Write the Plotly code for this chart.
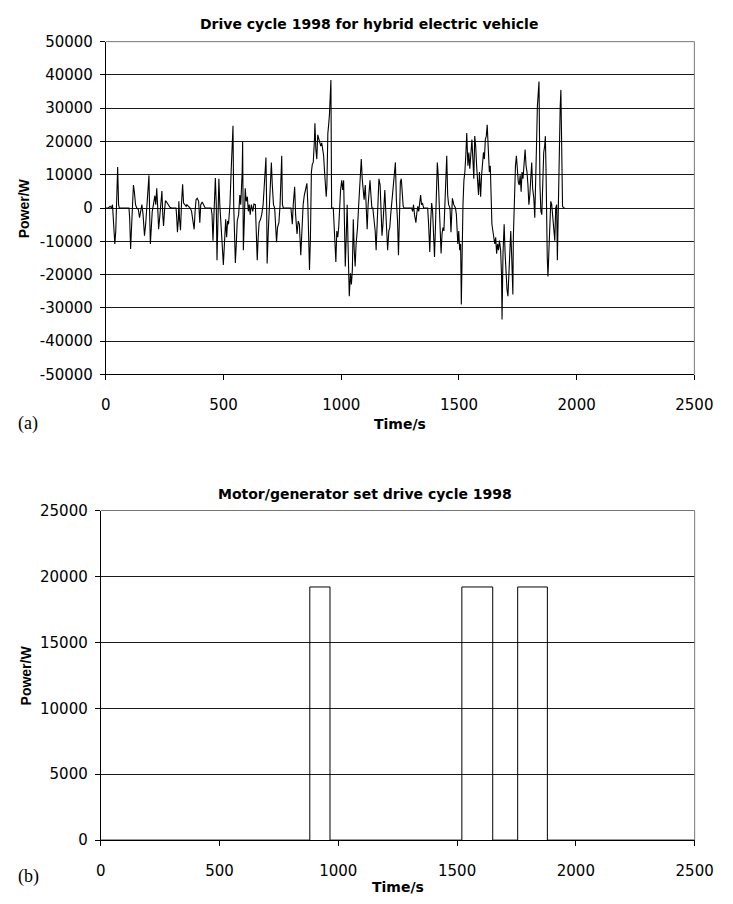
import plotly.graph_objects as go

# ---------------- data ----------------
# (a) drive cycle power demand of the hybrid electric vehicle
time_s = [
    0, 10, 18, 24, 28, 32, 38, 42, 46, 50, 54, 57, 98, 101, 105, 109, 113, 117, 121, 126,
    131, 138, 143, 149, 153, 158, 164, 169, 175, 179, 183, 186, 189, 193, 197, 202, 208, 212, 216, 220,
    224, 228, 234, 238, 242, 245, 249, 253, 258, 265, 272, 279, 298, 301, 304, 308, 310, 313, 317, 321,
    326, 330, 334, 341,
    344, 358, 364, 370, 375, 379, 383, 388, 394, 399, 403, 409, 416, 422, 447, 451, 455, 459, 465, 469,
    472, 476, 480, 484, 488, 494, 499, 505, 509, 513, 517, 521, 527, 532, 536, 540, 543, 546, 550, 554,
    558, 564, 569, 573, 579, 581, 584, 588, 592, 596, 601, 605, 609, 613, 618, 624, 629, 635, 639, 643,
    647, 651, 657, 662, 668, 672, 676, 680, 683, 685, 690, 694, 699, 703, 707, 712, 717, 721, 725, 729,
    735, 740, 744, 747, 750, 754, 786, 788, 792, 796, 802, 806, 812, 817, 822, 828, 832, 838, 843, 849,
    854, 858, 861, 865, 869, 873, 877, 881, 886, 888, 892, 896, 900, 905, 909, 913, 917, 921, 925, 929,
    933, 936, 939, 943, 947, 950, 956, 959, 966,
    969, 973, 977, 981, 985, 989, 993, 997, 1002, 1006, 1010, 1013, 1017, 1021, 1025, 1029, 1032, 1034, 1039, 1043,
    1047, 1051, 1055, 1059, 1063, 1069, 1074, 1080, 1085, 1089, 1093, 1097, 1102, 1106, 1110, 1114, 1118, 1122, 1126, 1130,
    1134, 1139, 1144, 1148, 1152, 1156, 1160, 1165, 1169, 1173, 1177, 1181, 1185, 1189, 1193, 1197, 1202, 1206, 1210, 1214,
    1218, 1222, 1226, 1230, 1234, 1239, 1243, 1247, 1251, 1255, 1259, 1263, 1267, 1299, 1303, 1307, 1311, 1317, 1321, 1325,
    1329, 1333, 1337, 1341, 1345, 1350, 1367, 1371, 1376, 1380, 1384, 1388, 1392, 1396, 1400, 1404, 1408, 1411, 1415, 1419,
    1424, 1428, 1432, 1436, 1440, 1444, 1448, 1452, 1456, 1462, 1466, 1472, 1478, 1485, 1489, 1495, 1499, 1503, 1507, 1510,
    1513, 1517, 1521, 1525, 1529, 1533,
    1538, 1542, 1546, 1551, 1555, 1559, 1563, 1567, 1571, 1575, 1579, 1583, 1587, 1592, 1596, 1600, 1604, 1608, 1612, 1616,
    1620, 1624, 1629, 1633, 1637, 1640, 1644, 1648, 1652, 1656, 1660, 1664, 1668, 1672, 1677, 1681, 1683, 1687, 1692, 1696,
    1700, 1704, 1708, 1712, 1716, 1720, 1724, 1729, 1731, 1735, 1740, 1744, 1748, 1752, 1756, 1760, 1764, 1768, 1772, 1777,
    1781, 1785, 1789, 1793, 1797, 1801, 1805, 1809, 1813, 1818, 1822, 1826, 1830, 1833, 1840, 1844, 1848, 1852, 1856, 1860,
    1864, 1867, 1870, 1872, 1875, 1878, 1882, 1886, 1890, 1894, 1899, 1903, 1907, 1911, 1915, 1918, 1921, 1924, 1927, 1930,
    1933, 1936, 1940, 1945, 1950,
]
power_w = [
    0, 0, 500, 0, 1000, -3900, -10800, -6900, 1000, 12300, 1000, 0, 0, -2900, -12300, -6900, 2000, 6900, 4900, 1000,
    0, -500, -2900, 500, 1000, -2000, -8300, -4900, 1000, 4900, 9800, -2000, -10800, -5900, -1000, 1000, 3700, 1000, 5900, 500,
    -6400, -3400, 1500, 5100, -2500, -5400, -1000, 2200, 1800, 1000, 200, 0, 0, -2900, -7300, -3400, 2000, -3400, -6700, 1000,
    7100, 1500, 1000, 500,
    1000, 0, -1000, -3900, -6400, -1000, 2500, 2900, 2000, -4400, 1000, 1800, 500, 0, 0, -2000, -9800, 1000, 9000, 1000,
    -15700, -3900, 8800, 1000, -2900, -10800, -17100, -7800, -3400, -8800, -3900, -4900, 1000, 10800, 19600, 24700, 1000, -11800, -16500, -10800,
    -3900, -2000, 3900, 1000, 10800, 19900, -12700, -3900, 5900, 2000, 3400, -1000, 1000, -2000, 1000, -1000, 1200, 1000, -10800, -15700,
    -8800, -4400, -3400, -2000, 1000, 4900, 10800, 15200, 1000, -16700, -6900, 1000, 7800, 13700, 6900, 1000, 0, -5900, -10300, -5900,
    -4400, 1000, 10300, 15700, 1000, 0, 0, -2900, -4900, 1000, 6400, -2000, -7800, -3900, -4900, -14200, -5900, 1000, 3900, 5400,
    7400, 1000, -8800, -18600, -8800, 10800, 13200, 13700, 20600, 25500, 17600, 14700, 22000, 20600, 19600, 18600, 19600, 18100, 15700, 10800,
    6400, 3400, 6900, 22500, 25500, 28400, 38500, 0, 0,
    -4900, -14200, -16200, -6900, -8800, -5900, 1000, 5400, 8300, 5400, 8300, -3900, -17600, -8800, 1000, -11800, -20600, -26500, -19600, -23000,
    -18600, -3400, -12700, -17600, -10800, -5900, 1000, 10800, 14700, 8800, 6400, 2500, 6900, -2000, -6400, 1000, 5400, 8300, 3900, 0,
    0, -3900, -6900, -12700, -5900, 1000, 8800, 6900, -1000, -8300, -4900, 1000, 5400, -1000, -8800, -12700, -6900, -5900, -2000, 1000,
    5900, 8800, 10800, 13700, 2500, -3900, -14200, -5900, 7800, 8800, 3900, 500, 0, 0, -1000, 1000, -2000, -4400, -1500, 500,
    -1000, 1500, 3900, 1000, 1500, 0, 0, -4900, -13200, -3900, 1500, -1000, -6900, -14700, -5900, 4900, 13700, 10800, 2000, -4900,
    -13700, -7800, -5900, -6900, 1000, 7800, 15700, 3900, 1000, 0, -7300, 2900, 1000, 0, -2000, -10800, -6900, -12700, -10800, -29000,
    -8800, 1000, 8300, 10800, 15700, 22500,
    12700, 16700, 11800, 18600, 20600, 14700, 8800, 21600, 18600, 12700, 5900, 3900, 10800, 3400, 9800, 12700, 16700, 14700, 20600, 21600,
    25000, 18600, 10800, 12700, 1000, -4900, -6900, -8300, -10800, -8800, -13700, -10800, -12700, -9800, -12700, -20600, -33500, -13700, -4900, -13700,
    -20600, -24500, -26500, -18600, -10800, -6900, -14700, -26000, -8800, 5900, 12700, 15700, 10800, 7800, 6900, 9800, 4900, 10800, 8800, 14700,
    17600, 12700, 10800, 6900, 1000, 3900, 10800, 13700, 5900, 2900, -2900, 5900, 20600, 30400, 38000, 6900, -1000, -2000, 10800, 16700,
    18600, 21600, 10800, -3900, -14700, -20600, -12700, -6900, 2000, 1000, -3900, -6900, -9800, 0, 1000, -15700, -1000, 1000, 12700, 30400,
    35500, 10800, 500, 0, 0,
]

# (b) motor/generator set operating periods
pulse_start_s = [880, 1520, 1755]
pulse_end_s = [965, 1650, 1880]
pulse_power_w = 19200
cycle_end_s = 2500

# axis ticks
x_ticks = [0, 500, 1000, 1500, 2000, 2500]
y_ticks_a = [50000, 40000, 30000, 20000, 10000, 0, -10000, -20000, -30000, -40000, -50000]
y_ticks_b = [0, 5000, 10000, 15000, 20000, 25000]

# ---------------- figure ----------------
W, H = 733, 904


def fx(px):
    return px / W


def fy(px):
    return 1 - px / H


# build the on/off step profile of the generator set
gen_t, gen_p = [0], [0]
for s, e in zip(pulse_start_s, pulse_end_s):
    gen_t += [s, s, e, e]
    gen_p += [0, pulse_power_w, pulse_power_w, 0]
gen_t.append(cycle_end_s)
gen_p.append(0)

fig = go.Figure()
fig.add_trace(go.Scatter(x=time_s, y=power_w, mode="lines",
                         line=dict(color="#000000", width=1.1),
                         xaxis="x", yaxis="y", showlegend=False, hoverinfo="skip"))
fig.add_trace(go.Scatter(x=gen_t, y=gen_p, mode="lines",
                         line=dict(color="#000000", width=1),
                         xaxis="x2", yaxis="y2", showlegend=False, hoverinfo="skip"))

tick_font = dict(family="DejaVu Sans", size=15, color="#000000")
x_common = dict(range=[0, 2500], tickvals=x_ticks, ticktext=[str(v) for v in x_ticks],
                showgrid=False, zeroline=False, showline=True, linecolor="#000000", linewidth=1,
                ticks="outside", ticklen=5, tickwidth=1, tickcolor="#000000",
                tickfont=tick_font, ticklabelstandoff=12, fixedrange=True)
y_common = dict(showgrid=True, gridcolor="#1a1a1a", gridwidth=1, zeroline=False,
                showline=True, linecolor="#000000", linewidth=1,
                ticks="outside", ticklen=5, tickwidth=1, tickcolor="#000000",
                tickfont=tick_font, ticklabelstandoff=4, fixedrange=True)

fig.update_layout(
    width=W, height=H, margin=dict(l=0, r=0, t=0, b=0),
    paper_bgcolor="white", plot_bgcolor="white",
    xaxis=dict(domain=[fx(104.3), fx(712.7)], anchor="y", **x_common),
    yaxis=dict(domain=[fy(372.8), fy(33.3)], anchor="x", range=[-50000, 50000],
               tickvals=y_ticks_a, ticktext=[str(v) for v in y_ticks_a], **y_common),
    xaxis2=dict(domain=[fx(99), fx(713)], anchor="y2", **x_common),
    yaxis2=dict(domain=[fy(848), fy(511.7)], anchor="x2", range=[0, 25000],
                tickvals=y_ticks_b, ticktext=[str(v) for v in y_ticks_b], **y_common),
)

# light frame on the top/right of each plot area
for xr, yr in (("x domain", "y domain"), ("x2 domain", "y2 domain")):
    fig.add_shape(type="line", xref=xr, yref=yr, x0=0, x1=1, y0=1, y1=1,
                  line=dict(color="#777777", width=1))
    fig.add_shape(type="line", xref=xr, yref=yr, x0=1, x1=1, y0=0, y1=1,
                  line=dict(color="#777777", width=1))

bold = dict(family="DejaVu Sans", size=14, color="#000000")
serif = dict(family="Liberation Serif", size=18, color="#000000")
vert = dict(family="Liberation Sans", size=14, color="#000000")

notes = [
    dict(text="<b>Drive cycle 1998 for hybrid electric vehicle</b>", x=fx(376), y=fy(15), font=bold),
    dict(text="<b>Power/W</b>", x=fx(20), y=fy(203), font=vert, textangle=-90),
    dict(text="<b>Time/s</b>", x=fx(408.5), y=fy(423), font=bold),
    dict(text="(a)", x=fx(24), y=fy(423), font=serif),
    dict(text="<b>Motor/generator set drive cycle 1998</b>", x=fx(372), y=fy(495), font=bold),
    dict(text="<b>Power/W</b>", x=fx(21.7), y=fy(680), font=vert, textangle=-90),
    dict(text="<b>Time/s</b>", x=fx(406), y=fy(896), font=bold),
    dict(text="(b)", x=fx(24), y=fy(885), font=serif),
]
for n in notes:
    fig.add_annotation(xref="paper", yref="paper", showarrow=False,
                       xanchor="center", yanchor="middle", **n)

fig.write_html("out.html")
